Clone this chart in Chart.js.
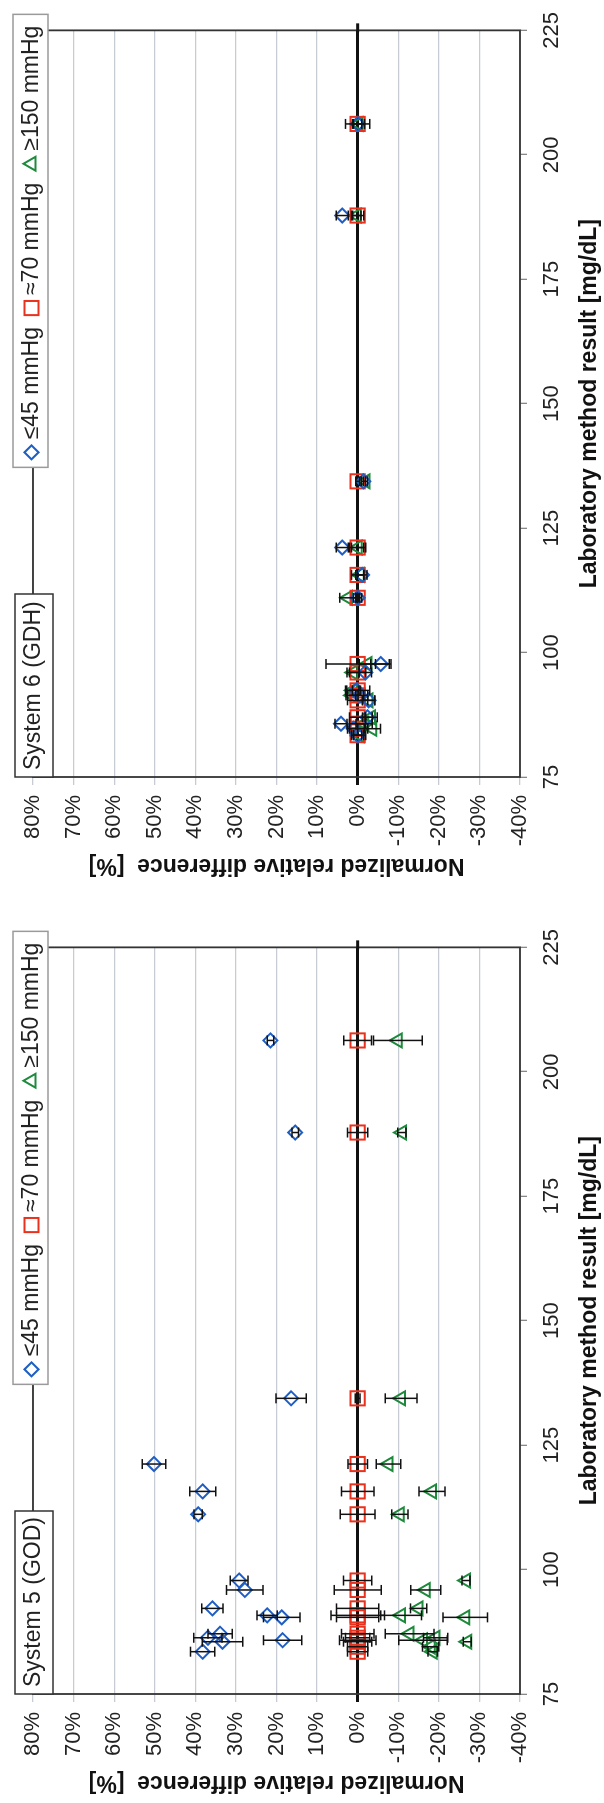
<!DOCTYPE html>
<html>
<head>
<meta charset="utf-8">
<script src="https://cdn.jsdelivr.net/npm/chart.js@4.4.1/dist/chart.umd.min.js"></script>
<style>
    html, body { margin: 0; padding: 0; background: #fff; overflow: hidden; }
    body { width: 604px; height: 1803px; position: relative; }
    /* the two panels are laid out side by side, then turned a quarter turn */
    #figure {
        position: absolute; left: 0; top: 0;
        width: 1803px; height: 604px;
        transform-origin: 0 0;
        transform: translate(0, 1803px) rotate(-90deg);
    }
    #figure canvas { position: absolute; top: 0; }
</style>
</head>
<body>
<div id="figure">
    <canvas id="system5Chart" width="886" height="604" style="left:0"></canvas>
    <canvas id="system6Chart" width="886" height="604" style="left:917px"></canvas>
</div>
<script>
// System 5 (GOD)
var lab5 = [83.5, 84.5, 85.5, 85.8, 86.3, 87.1, 90.4, 90.8, 92.2, 95.9, 97.8, 111.1, 115.7, 121.2, 134.4, 187.8, 206.3];
var low5 = [38.2, null, 33.3, 18.5, 36.9, 33.9, 18.7, 22.3, 35.8, 27.8, 29.2, 39.3, 38.2, 50.2, 16.4, 15.4, 21.5];
var mid5 = [0, 0, 0, 0, 0, 0, 0, 0, 0, 0, 0, 0, 0, 0, 0, 0, 0];
var high5 = [-18.5, -18.0, -27.0, -16.1, -19.2, -12.8, -26.5, -10.7, -15.0, -16.8, -26.7, -10.4, -18.3, -7.6, -10.7, -10.9, -9.9];
var errLow5 = [3.0, null, 5.0, 4.7, 3.5, 3.0, 4.5, 2.5, 2.6, 4.5, 2.2, 1.0, 3.2, 2.9, 3.7, 0.8, 0.8];
var errMid5 = [2.5, 2.5, 3.5, 4.5, 3.0, 4.0, 5.2, 6.6, 5.2, 5.8, 3.5, 4.3, 4.0, 2.4, 0.6, 2.5, 3.4];
var errHigh5 = [1.2, 2.0, 1.0, 6.0, 3.0, 6.0, 5.5, 5.0, 2.0, 3.7, 1.0, 2.0, 3.2, 3.0, 3.9, 1.0, 6.0];

// System 6 (GDH)
var lab6 = [83.4, 84.7, 85.7, 87.0, 90.4, 91.4, 92.4, 96.0, 97.7, 111.0, 115.6, 121.1, 134.4, 187.8, 206.2];
var low6 = [0.0, 1.0, 4.1, -2.4, -2.7, -0.5, 0.3, -1.9, -5.7, 0.0, -1.1, 3.8, -1.4, 3.8, 0.0];
var mid6 = [0, 0, 0, 0, 0, 0, 0, 0, 0, 0, 0, 0, 0, 0, 0];
var high6 = [-0.5, -3.6, -1.6, -3.3, -2.7, 1.4, 1.2, 1.1, -2.4, 2.4, -0.5, 0.0, -1.9, 0.2, -0.2];
var errLow6 = [1.0, 1.0, 1.5, 1.2, 1.5, 1.0, 1.0, 1.5, 2.5, 0.5, 1.2, 1.5, 0.5, 1.5, 1.0];
var errMid6 = [1.5, 2.5, 2.0, 2.0, 2.5, 2.5, 3.0, 2.0, 7.8, 1.0, 1.5, 2.0, 0.5, 1.5, 3.0];
var errHigh6 = [1.5, 2.0, 2.0, 1.5, 1.5, 1.5, 1.5, 1.5, 2.0, 2.0, 1.0, 1.5, 0.5, 1.0, 1.5];

var seriesLabels = ['\u226445 mmHg', '\u224870 mmHg', '\u2265150 mmHg'];
var seriesColors = ['#1f5ec4', '#e8321e', '#1e8a3c'];
var seriesShapes = ['rectRot', 'rect', 'triangle'];
var seriesRadius = [7, 10, 8];

var percentTicks = { min: -40, max: 80, step: 10 };
var labTicks = { min: 75, max: 225, step: 25 };

Chart.defaults.font.family = "'Liberation Sans', Arial, Helvetica, sans-serif";
Chart.defaults.color = '#222';

function makeDataset(k, xs, ys, errs) {
    var pts = [], e = [];
    for (var i = 0; i < xs.length; i++) {
        if (ys[i] === null) continue;
        pts.push({ x: xs[i], y: ys[i] });
        e.push(errs[i]);
    }
    return {
        label: seriesLabels[k],
        data: pts,
        errors: e,
        showLine: false,
        pointStyle: seriesShapes[k],
        pointRadius: seriesRadius[k],
        pointHoverRadius: seriesRadius[k],
        pointBorderWidth: 2,
        borderColor: seriesColors[k],
        backgroundColor: 'rgba(0,0,0,0)'
    };
}

function drawMarker(ctx, style, x, y, r, color) {
    ctx.save();
    ctx.strokeStyle = color;
    ctx.lineWidth = 2;
    ctx.fillStyle = 'rgba(0,0,0,0)';
    Chart.helpers.drawPoint(ctx, { pointStyle: style, radius: r, borderWidth: 2 }, x, y);
    ctx.restore();
}

// frame, zero line stub, error bars and the two label boxes
var decorations = {
    id: 'decorations',
    beforeDatasetsDraw: function (chart) {
        var ctx = chart.ctx, a = chart.chartArea, ys = chart.scales.y;
        ctx.save();
        ctx.strokeStyle = '#333';
        ctx.lineWidth = 1.8;
        ctx.strokeRect(a.left, a.top, a.right - a.left, a.bottom - a.top);
        var y0 = ys.getPixelForValue(0);
        ctx.strokeStyle = '#111';
        ctx.lineWidth = 3;
        ctx.beginPath();
        ctx.moveTo(a.right - 2, y0);
        ctx.lineTo(a.right + 7, y0);
        ctx.stroke();
        ctx.restore();
    },
    afterDatasetsDraw: function (chart) {
        var ctx = chart.ctx, ys = chart.scales.y;
        ctx.save();
        ctx.strokeStyle = '#111';
        ctx.lineWidth = 1.5;
        chart.data.datasets.forEach(function (ds, di) {
            var meta = chart.getDatasetMeta(di);
            meta.data.forEach(function (pt, i) {
                var err = ds.errors[i];
                if (!err) return;
                var v = ds.data[i].y;
                var top = ys.getPixelForValue(v + err);
                var bot = ys.getPixelForValue(v - err);
                ctx.beginPath();
                ctx.moveTo(pt.x, top); ctx.lineTo(pt.x, bot);
                ctx.moveTo(pt.x - 5, top); ctx.lineTo(pt.x + 5, top);
                ctx.moveTo(pt.x - 5, bot); ctx.lineTo(pt.x + 5, bot);
                ctx.stroke();
            });
        });
        ctx.restore();
    },
    afterDraw: function (chart) {
        var ctx = chart.ctx, a = chart.chartArea;
        var title = chart.options.plugins.decorations.title;
        ctx.save();
        ctx.font = '23px ' + Chart.defaults.font.family;
        ctx.textBaseline = 'middle';

        // system name box at the top left corner
        ctx.fillStyle = '#fff';
        ctx.strokeStyle = '#333';
        ctx.lineWidth = 1.5;
        ctx.fillRect(a.left, a.top - 18, 183, 38);
        ctx.strokeRect(a.left, a.top - 18, 183, 38);
        ctx.fillStyle = '#222';
        ctx.textAlign = 'left';
        ctx.fillText(title, a.left + 7, a.top + 1);

        // legend box at the top right corner
        var bx = a.right - 437, by = a.top - 20, bw = 453, bh = 35;
        ctx.fillStyle = '#fff';
        ctx.strokeStyle = '#9a9a9a';
        ctx.fillRect(bx, by, bw, bh);
        ctx.strokeRect(bx, by, bw, bh);
        var x = bx + 8, cy = by + bh / 2 + 1;
        for (var k = 0; k < 3; k++) {
            drawMarker(ctx, seriesShapes[k], x + 7, cy, seriesRadius[k], seriesColors[k]);
            x += 20;
            ctx.fillStyle = '#222';
            ctx.fillText(seriesLabels[k], x, cy);
            x += ctx.measureText(seriesLabels[k]).width + 12;
        }
        ctx.restore();
    }
};

function isZero(ctx) {
    return ctx.tick && ctx.tick.value === 0;
}

function buildChart(canvasId, title, xs, lowY, midY, highY, lowE, midE, highE) {
    var ctx = document.getElementById(canvasId).getContext('2d');
    return new Chart(ctx, {
        type: 'scatter',
        data: {
            datasets: [
                makeDataset(0, xs, lowY, lowE),
                makeDataset(1, xs, midY, midE),
                makeDataset(2, xs, highY, highE)
            ]
        },
        options: {
            responsive: false,
            animation: false,
            layout: { padding: { top: 33, right: 25, left: 0, bottom: 0 } },
            plugins: {
                legend: { display: false },
                tooltip: { enabled: false },
                decorations: { title: title }
            },
            scales: {
                x: {
                    type: 'linear',
                    min: labTicks.min,
                    max: labTicks.max,
                    ticks: { stepSize: labTicks.step, maxRotation: 0, padding: 12, font: { size: 22 }, color: '#222' },
                    grid: { drawOnChartArea: false, tickLength: 7, color: '#888', lineWidth: 1.3 },
                    border: { display: false },
                    title: {
                        display: true,
                        text: 'Laboratory method result [mg/dL]',
                        font: { size: 23, weight: 'bold' },
                        color: '#111',
                        padding: { top: 0, bottom: 1 }
                    },
                    afterFit: function (scale) { scale.height = 84; }
                },
                y: {
                    type: 'linear',
                    min: percentTicks.min,
                    max: percentTicks.max,
                    ticks: {
                        stepSize: percentTicks.step,
                        padding: 10,
                        font: { size: 22 },
                        color: '#222',
                        callback: function (v) { return v + '%'; }
                    },
                    grid: {
                        tickLength: 8,
                        color: function (c) { return isZero(c) ? '#111' : '#c6cbd4'; },
                        lineWidth: function (c) { return isZero(c) ? 3 : 1.3; }
                    },
                    border: { display: false },
                    title: {
                        display: true,
                        text: 'Normalized relative difference  [%]',
                        font: { size: 23, weight: 'bold' },
                        color: '#111',
                        padding: { top: 7, bottom: 0 }
                    },
                    afterFit: function (scale) { scale.width = 109; }
                }
            }
        },
        plugins: [decorations]
    });
}

document.addEventListener('DOMContentLoaded', function () {
    buildChart('system5Chart', 'System 5 (GOD)', lab5, low5, mid5, high5, errLow5, errMid5, errHigh5);
    buildChart('system6Chart', 'System 6 (GDH)', lab6, low6, mid6, high6, errLow6, errMid6, errHigh6);
});
</script>
</body>
</html>
